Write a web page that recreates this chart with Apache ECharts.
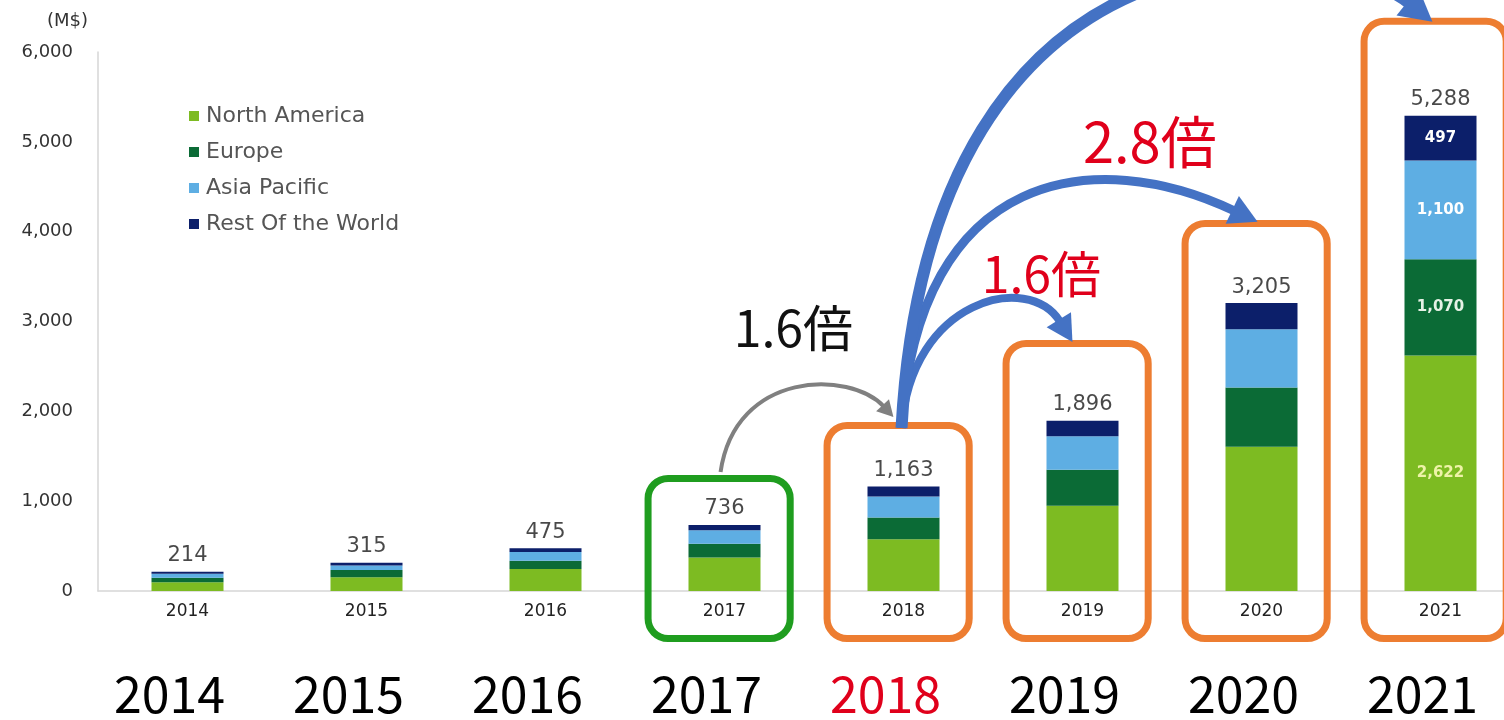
<!DOCTYPE html>
<html>
<head>
<meta charset="utf-8">
<script src="https://cdn.jsdelivr.net/npm/echarts@6.0.0/dist/echarts.min.js"></script>
<style>
  html, body { margin: 0; padding: 0; background: #fff; }
  #chart { width: 1504px; height: 720px; }
</style>
</head>
<body>
<div id="chart"></div>
<script>
// data (M$)
const years = ['2014', '2015', '2016', '2017', '2018', '2019', '2020', '2021'];
const northAmerica = [97, 152, 245, 374, 577, 950, 1605, 2622];
const europe = [51, 82, 92, 152, 242, 400, 660, 1070];
const asiaPacific = [44, 51, 98, 150, 233, 372, 650, 1100];
const restOfWorld = [22, 30, 40, 60, 111, 174, 290, 497];
const totals = [214, 315, 475, 736, 1163, 1896, 3205, 5288];
const regionNames = ['North America', 'Europe', 'Asia Pacific', 'Rest Of the World'];
const growthTexts = ['1.6倍', '1.6倍', '2.8倍'];
const highlightYear = '2018';
const detailYear = '2021';

const colors = ['#7dbb22', '#0b6b36', '#5eaee3', '#0c1f6a'];
const fmt = (v) => Number(v).toLocaleString('en-US');

const chart = echarts.init(document.getElementById('chart'));

const detailIdx = years.indexOf(detailYear);
const innerLabel = (color) => ({
  show: true,
  position: 'inside',
  color: color,
  fontFamily: 'DejaVu Sans',
  fontWeight: 'bold',
  fontSize: 15,
  formatter: (p) => fmt(p.value),
});
const withDetail = (arr, color) =>
  arr.map((v, i) => (i === detailIdx ? { value: v, label: innerLabel(color) } : v));

const barSeries = (name, arr, color, labelColor) => ({
  name: name,
  type: 'bar',
  stack: 'total',
  barWidth: 72,
  data: withDetail(arr, labelColor),
  itemStyle: { color: color },
  emphasis: { disabled: true },
});

chart.setOption({
  animation: false,
  backgroundColor: '#fff',
  grid: { left: 98, top: 52, width: 1432, height: 539, outerBoundsMode: 'none', containLabel: false },
  legend: {
    data: regionNames,
    orient: 'vertical',
    left: 184,
    top: 100,
    itemWidth: 10,
    itemHeight: 10,
    itemGap: 14,
    icon: 'rect',
    textStyle: { fontFamily: 'DejaVu Sans', fontSize: 22, color: '#555', padding: [0, 0, 0, 2] },
  },
  xAxis: [
    {
      type: 'category',
      data: years,
      axisLine: { show: true, lineStyle: { color: '#d6d6d6', width: 1.5 } },
      axisTick: { show: false },
      axisLabel: { margin: 12, fontFamily: 'DejaVu Sans', fontSize: 17, color: '#222' },
    },
    {
      type: 'category',
      data: years,
      position: 'bottom',
      axisLine: { show: false },
      axisTick: { show: false },
      axisLabel: {
        margin: 78,
        fontFamily: 'Noto Sans CJK JP',
        fontSize: 50,
        padding: [0, 36, 0, 0],
        color: (v) => (v === highlightYear ? '#e0001b' : '#000'),
      },
    },
  ],
  yAxis: {
    type: 'value',
    min: 0,
    max: 6000,
    interval: 1000,
    name: '(M$)',
    nameLocation: 'end',
    nameGap: 22,
    nameTextStyle: { fontFamily: 'DejaVu Sans', fontSize: 18, color: '#333', align: 'right', padding: [0, 10, 0, 0] },
    axisLine: { show: true, lineStyle: { color: '#d6d6d6', width: 1.5 } },
    axisTick: { show: false },
    splitLine: { show: false },
    axisLabel: { margin: 25, fontFamily: 'DejaVu Sans', fontSize: 18, color: '#333', formatter: fmt },
  },
  series: [
    barSeries(regionNames[0], northAmerica, colors[0], '#eef3a8'),
    barSeries(regionNames[1], europe, colors[1], '#e6f2e6'),
    barSeries(regionNames[2], asiaPacific, colors[2], '#ffffff'),
    barSeries(regionNames[3], restOfWorld, colors[3], '#ffffff'),
    {
      name: 'Total',
      type: 'scatter',
      data: totals,
      symbolSize: 1,
      itemStyle: { color: 'rgba(0,0,0,0)' },
      silent: true,
      label: {
        show: true,
        position: 'top',
        distance: 5,
        fontFamily: 'DejaVu Sans',
        fontSize: 21,
        color: '#1a1a1a',
        formatter: (p) => fmt(p.value),
      },
    },
  ],
});

// ---- annotations: boxes, arrows and growth texts, placed through the chart's own scales
function at(c, v) {
  const x0 = chart.convertToPixel({ xAxisIndex: 0 }, 0);
  const x1 = chart.convertToPixel({ xAxisIndex: 0 }, 1);
  return [x0 + c * (x1 - x0), chart.convertToPixel({ yAxisIndex: 0 }, v)];
}

const green = '#1f9d1f';
const orange = '#ed7d31';
const blue = '#4472c4';

// [category index, box top value, colour]
const boxes = [
  [3, 1253, green],
  [4, 1843, orange],
  [5, 2756, orange],
  [6, 4092, orange],
  [7, 6342, orange],
];
const boxBottom = -529;
const boxShift = -0.03; // boxes sit slightly left of the bars
const boxHalf = 0.397;

// arrows: start, cp1, cp2, tip in [category position, value]
const arrows = [
  { pts: [[2.978, 1325], [3.06, 2460], [3.70, 2460], [3.944, 1938]], color: '#808080', width: 4, head: 16 },
  { pts: [[3.989, 1815], [4.04, 3250], [4.70, 3560], [4.944, 2773]], color: blue, width: 8, head: 26 },
  { pts: [[3.989, 1815], [4.08, 4720], [5.08, 4960], [5.978, 4109]], color: blue, width: 9, head: 28 },
  { pts: [[3.989, 1815], [4.15, 7700], [6.385, 7250], [6.955, 6336]], color: blue, width: 12, head: 32 },
];

// growth texts: [category position, value, colour, size]
const texts = [
  [3.385, 2930, '#111', 50],
  [4.77, 3530, '#e0001b', 50],
  [5.376, 5000, '#e0001b', 56],
];

const graphic = [];

boxes.forEach(([c, top, color]) => {
  const [xl, yt] = at(c + boxShift - boxHalf, top);
  const [xr, yb] = at(c + boxShift + boxHalf, boxBottom);
  graphic.push({
    type: 'rect',
    shape: { x: xl, y: yt, width: xr - xl, height: yb - yt, r: 20 },
    style: { fill: null, stroke: color, lineWidth: 7 },
    z: 10,
  });
});

arrows.forEach((a) => {
  const [p0, p1, p2, p3] = a.pts.map((p) => at(p[0], p[1]));
  const dx = p3[0] - p2[0];
  const dy = p3[1] - p2[1];
  const len = Math.hypot(dx, dy);
  const ux = dx / len;
  const uy = dy / len;
  const base = [p3[0] - ux * a.head, p3[1] - uy * a.head];
  const w = a.head * 0.55;
  graphic.push({
    type: 'bezierCurve',
    shape: { x1: p0[0], y1: p0[1], cpx1: p1[0], cpy1: p1[1], cpx2: p2[0], cpy2: p2[1], x2: base[0] + ux * 2, y2: base[1] + uy * 2 },
    style: { fill: null, stroke: a.color, lineWidth: a.width },
    z: 11,
  });
  graphic.push({
    type: 'polygon',
    shape: { points: [p3, [base[0] - uy * w, base[1] + ux * w], [base[0] + uy * w, base[1] - ux * w]] },
    style: { fill: a.color },
    z: 11,
  });
});

texts.forEach(([c, v, color, size], i) => {
  const [x, y] = at(c, v);
  graphic.push({
    type: 'text',
    x: x,
    y: y,
    style: {
      text: growthTexts[i],
      fontFamily: 'Noto Sans CJK JP',
      fontSize: size,
      fill: color,
      align: 'center',
      verticalAlign: 'middle',
    },
    z: 12,
  });
});

chart.setOption({ graphic: graphic });
</script>
</body>
</html>
